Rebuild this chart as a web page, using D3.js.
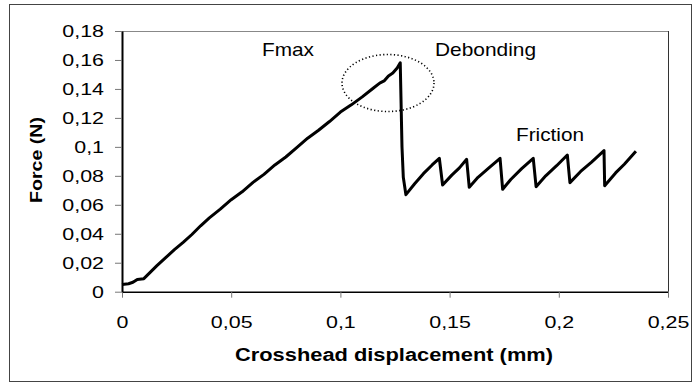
<!DOCTYPE html>
<html>
<head>
<meta charset="utf-8">
<script src="https://cdn.jsdelivr.net/npm/d3@7"></script>
<style>
  body { margin: 0; background: #fff; }
  svg { display: block; font-family: 'Liberation Sans', Arial, sans-serif; }
  .frame { fill: none; stroke: #444; stroke-width: 1; }
  .curve { fill: none; stroke: #000; stroke-width: 3; stroke-linejoin: round; }
</style>
</head>
<body>
<div id="chart"></div>
<script>
// displacement (mm) / force (N)
const displacement = [
  0, 0.003, 0.005, 0.007, 0.010, 0.013, 0.016, 0.020, 0.024, 0.028,
  0.032, 0.036, 0.040, 0.045, 0.050, 0.055, 0.060, 0.065, 0.070, 0.075,
  0.080, 0.085, 0.090, 0.095, 0.100, 0.105, 0.110, 0.115, 0.118, 0.120,
  0.122, 0.124, 0.126, 0.1274,
  0.1282, 0.1288,
  0.1300, 0.1340, 0.1380, 0.1420, 0.1453,
  0.1468, 0.1510, 0.1545, 0.1578,
  0.1590, 0.1630, 0.1680, 0.1731,
  0.1743, 0.1780, 0.1830, 0.1883,
  0.1896, 0.1940, 0.1990, 0.2039,
  0.2051, 0.2100, 0.2150, 0.2207,
  0.2210, 0.2260, 0.2300, 0.2353
];
const force = [
  0.005, 0.0055, 0.0065, 0.0085, 0.009, 0.0135, 0.018, 0.0235, 0.029, 0.034,
  0.0395, 0.0455, 0.051, 0.057, 0.0635, 0.069, 0.0755, 0.081, 0.0875, 0.093,
  0.0995, 0.106, 0.1115, 0.1175, 0.124, 0.129, 0.1345, 0.1405, 0.144, 0.1455,
  0.149, 0.151, 0.1545, 0.158,
  0.100, 0.079,
  0.067, 0.0745, 0.0815, 0.0875, 0.0921,
  0.0737, 0.0805, 0.0855, 0.0914,
  0.0721, 0.0790, 0.0855, 0.0921,
  0.0707, 0.0775, 0.0850, 0.0921,
  0.0725, 0.0800, 0.0870, 0.0944,
  0.0753, 0.0830, 0.0895, 0.0974,
  0.0732, 0.0820, 0.0880, 0.0970
];

const xTicks = [0, 0.05, 0.1, 0.15, 0.2, 0.25];
const yTicks = [0, 0.02, 0.04, 0.06, 0.08, 0.1, 0.12, 0.14, 0.16, 0.18];

const annotations = [
  { label: 'Fmax', x: 262, y: 56, len: 52 },
  { label: 'Debonding', x: 435, y: 56, len: 101 },
  { label: 'Friction', x: 516, y: 141, len: 68 }
];

const width = 696;
const height = 383;
const margin = { top: 31, right: 28, bottom: 91.3, left: 122 };
const innerW = width - margin.left - margin.right;
const innerH = height - margin.top - margin.bottom;

const comma = (d) => String(d).replace('.', ',');
const stretch = 1.26;

const svg = d3
  .select('#chart')
  .append('svg')
  .attr('width', width)
  .attr('height', height);

// outer border
svg.append('rect').attr('x', 9.5).attr('y', 4.5).attr('width', 682).attr('height', 377).classed('frame', true);

const g = svg.append('g').attr('transform', `translate(${margin.left},${margin.top})`);

const x = d3.scaleLinear().domain([0, 0.25]).range([0, innerW]);
const y = d3.scaleLinear().domain([0, 0.18]).range([innerH, 0]);

// top and right edge of the plot
g.append('line').attr('x1', 0).attr('x2', innerW).attr('y1', 0.5).attr('y2', 0.5).attr('stroke', '#888');
g.append('line').attr('x1', innerW + 0.5).attr('x2', innerW + 0.5).attr('y1', 0).attr('y2', innerH).attr('stroke', '#333');

const xAxis = g
  .append('g')
  .attr('transform', `translate(0,${innerH})`)
  .call(d3.axisBottom(x).tickValues(xTicks).tickFormat(comma).tickSize(6).tickSizeOuter(0).tickPadding(18));

const yAxis = g
  .append('g')
  .call(d3.axisLeft(y).tickValues(yTicks).tickFormat(comma).tickSize(7).tickSizeOuter(0).tickPadding(11));

[xAxis, yAxis].forEach((ax) => {
  ax.select('.domain').attr('stroke', '#000');
  ax.selectAll('.tick line').attr('stroke', '#777');
  ax.selectAll('text')
    .attr('font-size', 17)
    .attr('font-family', "'Liberation Sans', Arial, sans-serif")
    .attr('fill', '#000')
    .attr('textLength', function () { return this.getComputedTextLength() * stretch; })
    .attr('lengthAdjust', 'spacingAndGlyphs');
});
xAxis.select('.domain').attr('stroke-width', 1.5);
yAxis.select('.domain').attr('stroke-width', 2);

// dotted ellipse round the peak
svg.append('ellipse')
  .attr('cx', 388).attr('cy', 83).attr('rx', 46).attr('ry', 28.5)
  .attr('fill', 'none').attr('stroke', '#000').attr('stroke-width', 1.6)
  .attr('stroke-dasharray', '1.2,2.4');

const line = d3.line()
  .x((i) => x(displacement[i]))
  .y((i) => y(force[i]));

g.append('path')
  .datum(d3.range(displacement.length))
  .attr('d', line)
  .classed('curve', true);

// labels
svg.selectAll('.note')
  .data(annotations)
  .enter()
  .append('text')
  .attr('x', (d) => d.x)
  .attr('y', (d) => d.y)
  .attr('font-size', 18.5)
  .attr('textLength', (d) => d.len)
  .attr('lengthAdjust', 'spacingAndGlyphs')
  .text((d) => d.label);

svg.append('text')
  .attr('x', 394)
  .attr('y', 361)
  .attr('text-anchor', 'middle')
  .attr('font-size', 17.5)
  .attr('font-weight', 'bold')
  .attr('textLength', 318)
  .attr('lengthAdjust', 'spacingAndGlyphs')
  .text('Crosshead displacement (mm)');

svg.append('text')
  .attr('transform', 'translate(41.5,160) rotate(-90)')
  .attr('text-anchor', 'middle')
  .attr('font-size', 17)
  .attr('font-weight', 'bold')
  .attr('textLength', 86)
  .attr('lengthAdjust', 'spacingAndGlyphs')
  .text('Force (N)');
</script>
</body>
</html>
